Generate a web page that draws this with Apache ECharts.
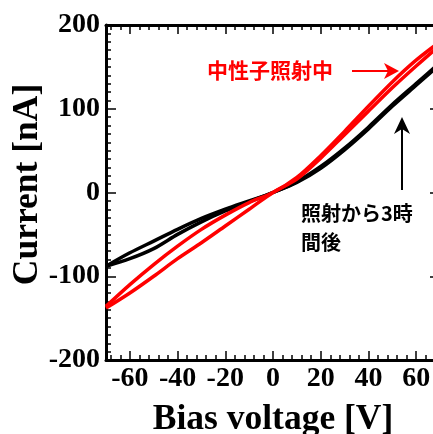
<!DOCTYPE html>
<html>
<head>
<meta charset="utf-8">
<script src="https://cdn.jsdelivr.net/npm/echarts@6/dist/echarts.min.js"></script>
<style>
html,body{margin:0;padding:0;overflow:hidden;background:#fff;}
#chart{width:445px;height:434px;}
</style>
</head>
<body>
<div id="chart"></div>
<script>
// Bias voltage [V]
const voltage = [-70,-60,-50,-40,-30,-20,-10,0,10,20,30,40,50,60,70];
// Current [nA] — during neutron irradiation (two sweeps)
const redSweepA = [-136,-110,-86,-64,-44,-27,-12,0,18,44,73,103,132,158,180];
const redSweepB = [-138,-120,-100,-79,-60,-40,-20,0,16,41,69,97,125,151,176];
// Current [nA] — 3 hours after irradiation (two sweeps)
const blackSweepA = [-88,-72,-58,-44,-31,-20,-10,0,13,31,53,78,105,130,155];
const blackSweepB = [-88,-79,-67,-50,-35,-22,-11,0,12,29,51,76,103,128,153];
// Axis ticks
const xTickLabels = [-60,-40,-20,0,20,40,60];
const xMinorTicks = [-68,-64,-56,-52,-48,-44,-36,-32,-28,-24,-16,-12,-8,-4,4,8,12,16,24,28,32,36,44,48,52,56,64,68];
const yTickLabels = [-200,-100,0,100,200];

const pairs = (ys) => voltage.map((v, i) => [v, ys[i]]);
const serifBold = {fontFamily: 'Liberation Serif', fontWeight: 'bold', color: '#000'};

const chart = echarts.init(document.getElementById('chart'), null, {renderer: 'canvas'});

function xAx(pos, major, withLabels) {
  return {
    type: 'value', gridIndex: 0, position: pos, min: -70, max: 70,
    axisLine: {show: major, onZero: false, lineStyle: {color: '#000', width: 3}},
    axisTick: {show: true, inside: true, length: major ? 9 : 5,
      customValues: major ? xTickLabels : xMinorTicks,
      lineStyle: {color: '#000', width: 1.5}},
    axisLabel: {show: withLabels, customValues: major ? xTickLabels : xMinorTicks,
      margin: 5, fontSize: 28, ...serifBold},
    splitLine: {show: false},
    name: withLabels ? 'Bias voltage [V]' : '',
    nameLocation: 'middle', nameGap: 42, nameMoveOverlap: false,
    nameTextStyle: {fontSize: 35.5, ...serifBold}
  };
}
function yAx(pos, withLabels) {
  return {
    type: 'value', gridIndex: 0, position: pos, min: -200, max: 200, interval: 100,
    axisLine: {show: true, onZero: false, lineStyle: {color: '#000', width: 3}},
    axisTick: {show: true, inside: true, length: 10, lineStyle: {color: '#000', width: 1.5}},
    minorTick: {show: true, splitNumber: 10, length: 5, lineStyle: {color: '#000', width: 1.5}},
    axisLabel: {show: withLabels, margin: 6, fontSize: 28, ...serifBold,
      customValues: yTickLabels},
    splitLine: {show: false},
    name: withLabels ? 'Current [nA]' : '',
    nameLocation: 'middle', nameGap: 60, nameMoveOverlap: false,
    nameTextStyle: {fontSize: 35.5, ...serifBold, padding: [0, 0, 0, 16]}
  };
}

function series(name, data, color) {
  return {
    name, type: 'line', data: pairs(data), xAxisIndex: 0, yAxisIndex: 0,
    showSymbol: false, smooth: 0.3, clip: true,
    lineStyle: {color, width: 3.5}, animation: false
  };
}

chart.setOption({
  animation: false,
  grid: {left: 106, top: 25, right: 5, bottom: 74, containLabel: false, outerBoundsMode: 'none'},
  xAxis: [xAx('bottom', true, true), xAx('bottom', false, false), xAx('top', true, false), xAx('top', false, false)],
  yAxis: [yAx('left', true), yAx('right', false)],
  series: [
    series('照射から3時間後 A', blackSweepA, '#000'),
    series('照射から3時間後 B', blackSweepB, '#000'),
    series('中性子照射中 A', redSweepA, '#ff0000'),
    series('中性子照射中 B', redSweepB, '#ff0000')
  ],
  graphic: [
    {type: 'text', left: 207, top: 60, style: {text: '中性子照射中', fill: '#ff0000',
      font: 'bold 21px "Noto Sans CJK JP"'}},
    {type: 'line', shape: {x1: 352, y1: 71, x2: 390, y2: 71}, style: {stroke: '#ff0000', lineWidth: 2}},
    {type: 'polygon', shape: {points: [[399, 71], [384, 63], [388, 71], [384, 79]]}, style: {fill: '#ff0000'}},
    {type: 'line', shape: {x1: 402, y1: 190, x2: 402, y2: 126}, style: {stroke: '#000', lineWidth: 2}},
    {type: 'polygon', shape: {points: [[402, 117], [394, 134], [402, 129], [410, 134]]}, style: {fill: '#000'}},
    {type: 'text', left: 301, top: 203, style: {text: '照射から3時', fill: '#000',
      font: 'bold 20px "Noto Sans CJK JP"'}},
    {type: 'text', left: 301, top: 232, style: {text: '間後', fill: '#000',
      font: 'bold 20px "Noto Sans CJK JP"'}}
  ]
});
</script>
</body>
</html>
